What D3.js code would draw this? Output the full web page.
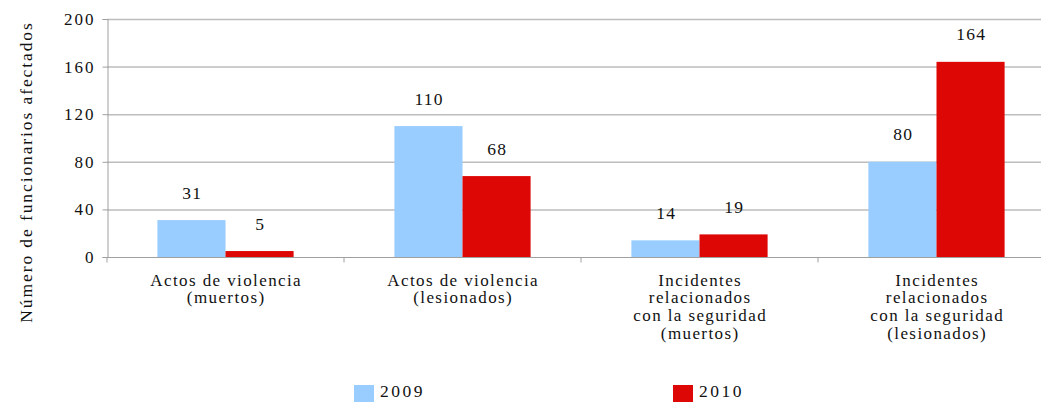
<!DOCTYPE html>
<html><head><meta charset="utf-8">
<script src="https://cdn.jsdelivr.net/npm/d3@7"></script>
<style>body{margin:0;background:#fff}svg{display:block}</style>
</head><body><svg id="c" width="1041" height="402"></svg>
<script>
const categories = [
  ["Actos de violencia","(muertos)"],
  ["Actos de violencia","(lesionados)"],
  ["Incidentes","relacionados","con la seguridad","(muertos)"],
  ["Incidentes","relacionados","con la seguridad","(lesionados)"]
];
const seriesNames = ["2009","2010"];
const values2009 = [31,110,14,80];
const values2010 = [5,68,19,164];
const yTicks = [0,40,80,120,160,200];
const yTitle = "Número de funcionarios afectados";
const colors = ["#99CCFF","#DD0806"];

(function(){
const FF = "'Liberation Serif', 'Times New Roman', serif";
const svg = d3.select("#c");
const mL = 107, mR = 1055, mT = 19, mB = 257;
const x = d3.scaleBand().domain(d3.range(categories.length)).range([mL,mR]).paddingInner(0).paddingOuter(0);
const inner = d3.scaleBand().domain([0,1]).range([0, x.bandwidth()]).paddingInner(0).paddingOuter(0.74);
const y = d3.scaleLinear().domain([0,200]).range([mB,mT]);
const txt = s => s.style("font-family",FF).style("fill","#111");

svg.append("g").selectAll("line").data(yTicks.filter(d=>d>0)).join("line")
  .attr("x1",mL).attr("x2",mR).attr("y1",d=>y(d)+0.5).attr("y2",d=>y(d)+0.5)
  .attr("stroke","#bdbdbd").attr("stroke-width",1.5);

const ya = svg.append("g").attr("transform",`translate(${mL+0.5},0)`)
  .call(d3.axisLeft(y).tickValues(yTicks).tickSize(5).tickPadding(7));
ya.attr("font-family",null);
ya.select(".domain").attr("stroke","#a0a0a0");
ya.selectAll(".tick line").attr("stroke","#a0a0a0");
ya.selectAll(".tick text").call(txt).style("font-size","17px").style("letter-spacing","2px");

const data = [values2009, values2010];
data.forEach((vals,s)=>{
  svg.append("g").selectAll("rect").data(vals).join("rect")
    .attr("x",(d,i)=>x(i)+inner(s)).attr("width",inner.bandwidth())
    .attr("y",d=>y(d)).attr("height",d=>mB-y(d)).attr("fill",colors[s]);
  svg.append("g").selectAll("text").data(vals).join("text")
    .attr("x",(d,i)=>x(i)+inner(s)+inner.bandwidth()/2+0.7).attr("y",d=>y(d)-21.5)
    .attr("text-anchor","middle").call(txt).style("font-size","17.5px").style("letter-spacing","1.2px").text(d=>d);
});

const xa = svg.append("g").attr("transform",`translate(0,${mB+0.5})`);
xa.append("line").attr("x1",mL).attr("x2",mR).attr("stroke","#a0a0a0");
xa.selectAll("line.t").data(d3.range(categories.length+1)).join("line").attr("class","t")
  .attr("x1",i=>mL+i*x.bandwidth()).attr("x2",i=>mL+i*x.bandwidth())
  .attr("y1",0).attr("y2",5).attr("stroke","#a0a0a0");
categories.forEach((lines,i)=>{
  const t = svg.append("text").attr("text-anchor","middle").call(txt).style("font-size","17px").style("letter-spacing","1.4px");
  lines.forEach((l,j)=>t.append("tspan").attr("x",x(i)+x.bandwidth()/2+0.7).attr("y",285.5+j*17.7).text(l));
});

svg.append("text").attr("transform","translate(31.5,172) rotate(-90)").attr("text-anchor","middle")
  .call(txt).style("font-size","17.5px").style("letter-spacing","1.9px").text(yTitle);

const legX = [354,673];
seriesNames.forEach((n,i)=>{
  svg.append("rect").attr("x",legX[i]).attr("y",385).attr("width",20).attr("height",17).attr("fill",colors[i]);
  svg.append("text").attr("x",legX[i]+26).attr("y",397).call(txt).style("font-size","17.5px").style("letter-spacing","2.5px").text(n);
});
})();
</script></body></html>
